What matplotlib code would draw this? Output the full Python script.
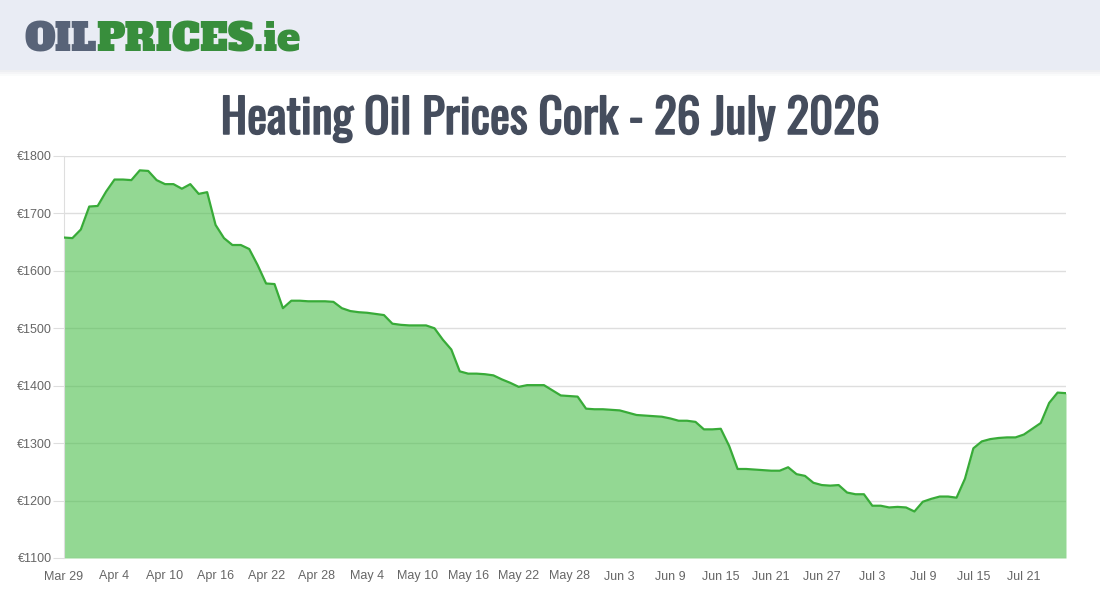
import numpy as np
import matplotlib.pyplot as plt
import matplotlib.patheffects as pe
from matplotlib.patches import Rectangle

# ------------------------------------------------------------
# Daily prices (EUR), 29 Mar -> 26 Jul
prices = [
    1658, 1657, 1672, 1712, 1713, 1738, 1759, 1759, 1758, 1775,
    1774, 1758, 1751, 1751, 1743, 1751, 1734, 1737, 1680, 1657,
    1645, 1645, 1638, 1610, 1578, 1577, 1535, 1548, 1548, 1547,
    1547, 1547, 1546, 1535, 1530, 1528, 1527, 1525, 1523, 1508,
    1506, 1505, 1505, 1505, 1500, 1480, 1463, 1425, 1421, 1421,
    1420, 1418, 1411, 1405, 1398, 1401, 1401, 1401, 1392, 1383,
    1382, 1381, 1360, 1359, 1359, 1358, 1357, 1353, 1349, 1348,
    1347, 1346, 1343, 1339, 1339, 1337, 1324, 1324, 1325, 1295,
    1255, 1255, 1254, 1253, 1252, 1252, 1258, 1246, 1243, 1231,
    1227, 1226, 1227, 1214, 1211, 1211, 1191, 1191, 1188, 1189,
    1188, 1181, 1198, 1203, 1207, 1207, 1205, 1238, 1291, 1303,
    1307, 1309, 1310, 1310, 1315, 1325, 1335, 1370, 1388, 1387,
]
tick_labels = ["Mar 29", "Apr 4", "Apr 10", "Apr 16", "Apr 22", "Apr 28",
               "May 4", "May 10", "May 16", "May 22", "May 28", "Jun 3",
               "Jun 9", "Jun 15", "Jun 21", "Jun 27", "Jul 3", "Jul 9",
               "Jul 15", "Jul 21"]
y_ticks = [1100, 1200, 1300, 1400, 1500, 1600, 1700, 1800]

days = np.arange(len(prices))

fig = plt.figure(figsize=(11, 6), dpi=100)

# header band with logo
fig.patches.append(Rectangle((0, 1 - 70 / 600), 1, 70 / 600, transform=fig.transFigure,
                             fc='#e9ecf4', ec='none', zorder=0))
for i, a in enumerate([0.30, 0.18, 0.08]):
    fig.patches.append(Rectangle((0, 1 - (72 + i * 2) / 600), 1, 2 / 600,
                                 transform=fig.transFigure, fc='#c8ccd6',
                                 alpha=a, ec='none', zorder=0))
logo_font = ['Alfa Slab One', 'DejaVu Serif']
t1 = fig.text(24 / 1100, 1 - 51 / 600, "OIL", color='#586378', fontsize=28,
              family=logo_font, va='baseline')
fig.canvas.draw()
bb = t1.get_window_extent()
fig.text(bb.x1 / 1100, 1 - 51 / 600, "PRICES.ie", color='#388e3c', fontsize=28,
         family=logo_font, va='baseline')

# title (only regular Oswald installed -> thicken with a thin stroke)
fig.text(0.5, 1 - 134 / 600, "Heating Oil Prices Cork - 26 July 2026",
         color='#454d5d', fontsize=34,
         family=['Oswald', 'Antonio', 'DejaVu Sans'],
         ha='center', va='baseline',
         path_effects=[pe.withStroke(linewidth=1.1, foreground='#454d5d')])

# chart
ax = fig.add_axes([64 / 1100, 1 - 558 / 600, 1002 / 1100, 402 / 600])
ax.fill_between(days, prices, 1100, color='#4cbf4c', alpha=0.6, lw=0, zorder=2)
ax.plot(days, prices, color='#38ab38', lw=1.6, zorder=3, solid_joinstyle='round')

ax.set_xlim(0, len(prices) - 1)
ax.set_ylim(1100, 1800)
ax.set_yticks(y_ticks)
ax.set_yticklabels(["€%d" % v for v in y_ticks])
ax.set_xticks(np.arange(0, len(prices), 6)[:len(tick_labels)])
ax.set_xticklabels(tick_labels)
for lbl in ax.get_xticklabels() + ax.get_yticklabels():
    lbl.set_family(['Liberation Sans', 'DejaVu Sans'])

ax.grid(axis='y', color='#dedede', lw=1, zorder=1)
ax.tick_params(axis='y', length=8, color='#dedede', labelsize=9,
               labelcolor='#666666', pad=1)
ax.tick_params(axis='x', length=0, labelsize=9, labelcolor='#666666', pad=9)
for s in ['top', 'right', 'bottom']:
    ax.spines[s].set_visible(False)
ax.spines['left'].set_color('#dedede')

fig.savefig('out.png', dpi=100)
